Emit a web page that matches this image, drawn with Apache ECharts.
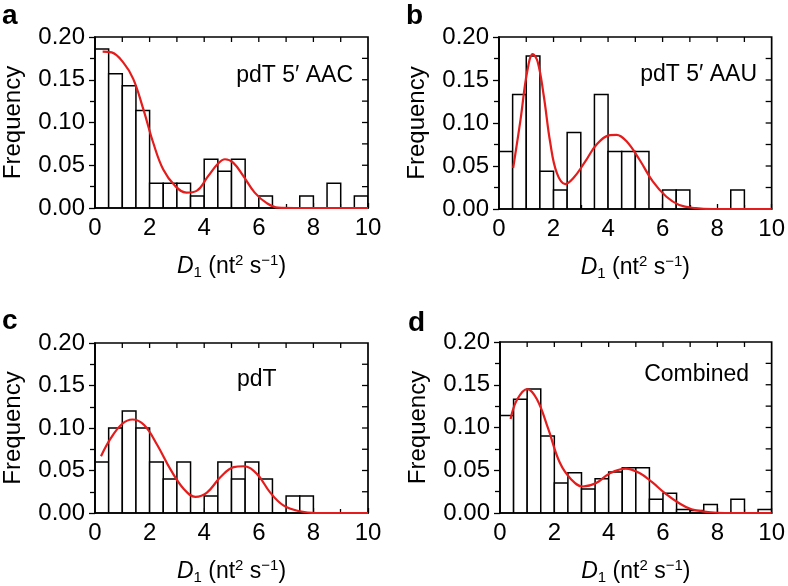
<!DOCTYPE html>
<html>
<head>
<meta charset="utf-8">
<script src="https://cdn.jsdelivr.net/npm/echarts@6/dist/echarts.min.js"></script>
<style>html,body{margin:0;padding:0;background:#fff}#c{width:788px;height:586px}</style>
</head>
<body>
<div id="c"></div>
<script>
// ---- data ----
const binStarts = [0,0.5,1,1.5,2,2.5,3,3.5,4,4.5,5,5.5,6,6.5,7,7.5,8,8.5,9,9.5];
const binWidth = 0.5;

const freqA = [0.186,0.157,0.143,0.114,0.029,0.029,0.029,0.014,0.057,0.043,0.057,0,0.014,0,0,0.014,0,0.029,0,0.014];
const freqB = [0.067,0.133,0.178,0.044,0.022,0.089,0,0.133,0.067,0.067,0.067,0,0.022,0.022,0,0,0,0.022,0,0];
const freqC = [0.06,0.10,0.12,0.10,0.06,0.04,0.06,0,0.02,0.06,0.04,0.06,0.04,0,0.02,0.02,0,0,0,0];
const freqD = [0.114,0.133,0.145,0.090,0.035,0.047,0.028,0.040,0.048,0.053,0.053,0.016,0.023,0.004,0.003,0.010,0,0.016,0,0.004];

const fitA = [[0.28,0.183],[0.61,0.182],[1.04,0.170],[1.40,0.151],[1.77,0.1156],[2.13,0.0766],[2.5,0.045],[2.93,0.026],[3.35,0.018],[3.72,0.020],[4.15,0.0375],[4.51,0.052],[4.76,0.057],[5.06,0.053],[5.43,0.0375],[5.85,0.018],[6.28,0.006],[6.71,0.0004],[7.3,0],[10,0]];
const fitB = [[0.52,0.0477],[0.79,0.104],[1.03,0.159],[1.24,0.180],[1.42,0.171],[1.64,0.132],[1.88,0.077],[2.12,0.042],[2.43,0.029],[2.73,0.036],[3.16,0.055],[3.58,0.075],[4.07,0.086],[4.31,0.0863],[4.67,0.079],[5.16,0.057],[5.64,0.032],[6.13,0.0145],[6.61,0.0047],[7.22,0.001],[7.83,0],[10,0]];
const fitC = [[0.22,0.0668],[0.58,0.088],[1.0,0.105],[1.37,0.110],[1.8,0.1035],[2.28,0.080],[2.77,0.051],[3.26,0.028],[3.68,0.019],[4.1,0.024],[4.59,0.042],[5.08,0.054],[5.44,0.055],[5.93,0.046],[6.42,0.024],[6.9,0.009],[7.5,0.002],[8.1,0],[10,0]];
const fitD = [[0.39,0.110],[0.63,0.1327],[1.0,0.145],[1.36,0.133],[1.78,0.098],[2.2,0.059],[2.63,0.039],[3.05,0.031],[3.54,0.035],[4.02,0.046],[4.63,0.052],[5.12,0.047],[5.6,0.036],[6.08,0.023],[6.57,0.012],[7.05,0.0043],[7.66,0.0012],[8.27,0],[10,0]];

const panelLetters = ['a','b','c','d'];
const panelLabels = ['pdT 5\u2032 AAC','pdT 5\u2032 AAU','pdT','Combined'];
const xTicks = [0,2,4,6,8,10];
const yTicks = [0,0.05,0.10,0.15,0.20];
const topTickVals = [1,2,3,4,5,6,7,8,9];
const rightTickVals = [0.025,0.05,0.075,0.10,0.125,0.15,0.175];
const yName = 'Frequency';

// ---- layout ----
const FONT = "'Liberation Sans', Arial, Helvetica, sans-serif";
const grids = [
  {left:94, top:37, width:274, height:171},
  {left:499, top:37, width:275, height:172},
  {left:94, top:343, width:274, height:173},
  {left:500, top:342, width:275, height:172}
];
const freqs = [freqA, freqB, freqC, freqD];
const fits = [fitA, fitB, fitC, fitD];
const letterPos = [[2,2],[406,2],[2,307],[408,309]];
const labelPos = [
  {x:353, y:76, align:'right'},
  {x:757, y:75, align:'right'},
  {x:237, y:380, align:'left'},
  {x:749, y:375, align:'right'}
];

const xMin = xTicks[0], xMax = xTicks[xTicks.length-1];
const yMin = yTicks[0], yMax = yTicks[yTicks.length-1];
const xAxes = [], yAxes = [], series = [], graphics = [];

// frame items: kind 2 = box, kind 0 = top tick, kind 1 = right tick
const frameData = [[2, 0]]
  .concat(topTickVals.map(v => [0, v]))
  .concat(rightTickVals.map(v => [1, v]));

grids.forEach((g, i) => {
  xAxes.push({
    gridIndex:i, type:'value', min:xMin, max:xMax, interval:2, position:'bottom',
    axisLine:{show:true, onZero:false, lineStyle:{color:'#000', width:1.7}},
    axisTick:{show:true, inside:true, length:5, lineStyle:{color:'#000', width:1.3}},
    minorTick:{show:true, splitNumber:2, length:4, lineStyle:{color:'#000', width:1.3}},
    splitLine:{show:false},
    axisLabel:{show:true, color:'#000', fontSize:24, fontFamily:FONT, margin:8},
    name:'{i|D}{sub|1}{n| (nt}{sup|2}{n| s}{sup|\u22121}{n|)}',
    nameLocation:'middle', nameGap:45,
    nameTextStyle:{
      color:'#000', fontFamily:FONT, fontSize:23,
      rich:{
        i:{fontStyle:'italic', fontSize:23, fontFamily:FONT, color:'#000', lineHeight:27},
        n:{fontSize:23, fontFamily:FONT, color:'#000', lineHeight:27},
        sub:{fontSize:15, fontFamily:FONT, color:'#000', lineHeight:16, verticalAlign:'bottom'},
        sup:{fontSize:15, fontFamily:FONT, color:'#000', lineHeight:18, verticalAlign:'top'}
      }
    }
  });
  yAxes.push({
    gridIndex:i, type:'value', min:yMin, max:yMax, interval:0.05, position:'left',
    axisLine:{show:true, onZero:false, lineStyle:{color:'#000', width:1.7}},
    axisTick:{show:true, inside:false, length:6, lineStyle:{color:'#000', width:1.3}},
    minorTick:{show:true, splitNumber:2, length:5, lineStyle:{color:'#000', width:1.3}},
    splitLine:{show:false},
    axisLabel:{show:true, color:'#000', fontSize:24, fontFamily:FONT, margin:10, formatter:v => v.toFixed(2)},
    name:yName, nameLocation:'middle', nameGap:70, nameRotate:90,
    nameTextStyle:{color:'#000', fontSize:24, fontFamily:FONT}
  });

  const data = binStarts.map((s, k) => [s, s + binWidth, freqs[i][k]]);
  series.push({
    type:'custom', xAxisIndex:i, yAxisIndex:i, z:2, clip:true,
    data:data,
    renderItem:(params, api) => {
      const p0 = api.coord([api.value(0), api.value(2)]);
      const p1 = api.coord([api.value(1), 0]);
      return {
        type:'rect',
        shape:{x:p0[0], y:p0[1], width:p1[0]-p0[0], height:p1[1]-p0[1]},
        style:{fill:'#fff', stroke:'#000', lineWidth:1.5}
      };
    }
  });
  // plot frame (top and right edges with inward ticks), placed through the axes' scales
  series.push({
    type:'custom', xAxisIndex:i, yAxisIndex:i, z:3, clip:false, silent:true,
    data:frameData,
    renderItem:(params, api) => {
      const kind = api.value(0), v = api.value(1);
      if (kind === 2) {
        const a = api.coord([xMin, yMax]);
        const b = api.coord([xMax, yMin]);
        return {type:'rect', shape:{x:a[0], y:a[1], width:b[0]-a[0], height:b[1]-a[1]},
          style:{fill:null, stroke:'#000', lineWidth:1.7}};
      }
      if (kind === 0) {
        const p = api.coord([v, yMax]);
        return {type:'line', shape:{x1:p[0], y1:p[1], x2:p[0], y2:p[1] + 5},
          style:{stroke:'#000', lineWidth:1.3}};
      }
      const p = api.coord([xMax, v]);
      return {type:'line', shape:{x1:p[0], y1:p[1], x2:p[0] - 6, y2:p[1]},
        style:{stroke:'#000', lineWidth:1.3}};
    }
  });
  series.push({
    type:'line', xAxisIndex:i, yAxisIndex:i, z:5, data:fits[i],
    smooth:0.4, showSymbol:false, symbol:'none', clip:true,
    lineStyle:{color:'#e41c1c', width:2.2}
  });

  graphics.push({
    type:'text', left:letterPos[i][0], top:letterPos[i][1],
    style:{text:panelLetters[i], fill:'#000', font:'bold 28px ' + FONT}
  });
  graphics.push({
    type:'text', x:labelPos[i].x, y:labelPos[i].y,
    style:{text:panelLabels[i], fill:'#000', font:'23px ' + FONT, align:labelPos[i].align, verticalAlign:'middle'}
  });
});

const chart = echarts.init(document.getElementById('c'), null, {renderer:'canvas'});
chart.setOption({
  animation:false,
  backgroundColor:'#fff',
  grid:grids.map(g => Object.assign({}, g)),
  xAxis:xAxes, yAxis:yAxes, series:series, graphic:graphics
});
</script>
</body>
</html>
